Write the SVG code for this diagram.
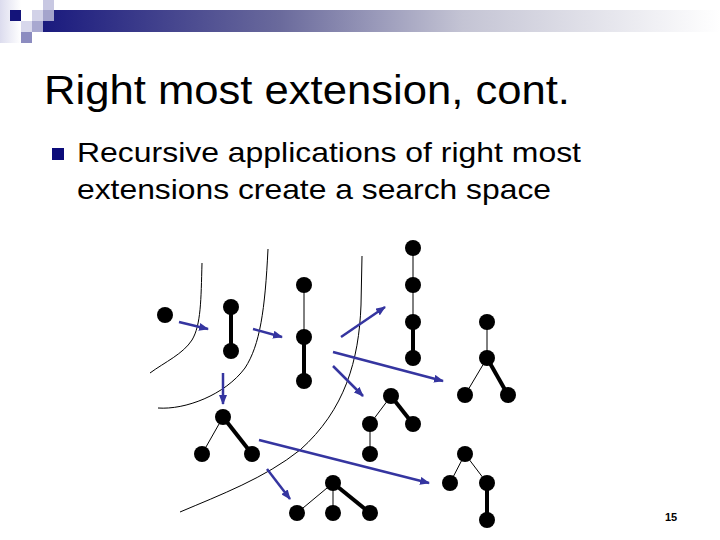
<svg xmlns="http://www.w3.org/2000/svg" width="720" height="540" viewBox="0 0 720 540">
  <defs>
    <linearGradient id="bar" x1="0" y1="0" x2="1" y2="0">
      <stop offset="0" stop-color="#1a1a7e"/>
      <stop offset="0.35" stop-color="#6a6a9c"/>
      <stop offset="0.62" stop-color="#c4c4d4"/>
      <stop offset="1" stop-color="#ffffff"/>
    </linearGradient>
    <linearGradient id="side" x1="0" y1="0" x2="1" y2="0">
      <stop offset="0" stop-color="#dcdcee"/>
      <stop offset="1" stop-color="#ffffff"/>
    </linearGradient>
    <marker id="ah" markerWidth="10" markerHeight="8" refX="9" refY="4" orient="auto" markerUnits="userSpaceOnUse">
      <path d="M0,0 L10,4 L0,8 Z" fill="#3535a0"/>
    </marker>
  </defs>
  <style>
    .title { font-family: "Liberation Sans", Arial, sans-serif; font-size: 41px; fill: #000; }
    .body { font-family: "Liberation Sans", Arial, sans-serif; font-size: 28px; fill: #000; }
    .pg { font-family: "Liberation Sans", Arial, sans-serif; font-size: 11px; font-weight: bold; fill: #000; }
    .dot { fill: #000; }
    .thin { stroke: #000; stroke-width: 1; fill: none; }
    .thick { stroke: #000; stroke-width: 4; fill: none; }
    .curve { stroke: #000; stroke-width: 1; fill: none; }
    .arrow { stroke: #3535a0; stroke-width: 2.5; fill: none; marker-end: url(#ah); }
  </style>
  <rect width="720" height="540" fill="#ffffff"/>

  <!-- header decoration -->
  <g id="header">
    <rect x="0" y="0" width="21" height="43" fill="url(#side)"/>
    <rect x="43" y="10" width="677" height="22" fill="url(#bar)"/>
    <rect x="10" y="10" width="11" height="11" fill="#14147a"/>
    <rect x="32" y="10" width="11" height="11" fill="#d2d2e8"/>
    <rect x="43" y="0" width="11" height="10" fill="#c8c8e2"/>
    <rect x="43" y="10" width="11" height="11" fill="#a4a4cc"/>
    <rect x="21" y="21" width="11" height="11" fill="#d8d8ec"/>
    <rect x="32" y="21" width="11" height="11" fill="#a8a8d0"/>
    <rect x="21" y="32" width="11" height="11" fill="#8c8cc0"/>
  </g>

  <text class="title" x="44" y="104" textLength="526" lengthAdjust="spacingAndGlyphs">Right most extension, cont.</text>
  <rect x="52" y="148" width="12" height="12" fill="#0c0c7a"/>
  <text class="body" x="77" y="162" textLength="504" lengthAdjust="spacingAndGlyphs">Recursive applications of right most</text>
  <text class="body" x="77" y="199" textLength="474" lengthAdjust="spacingAndGlyphs">extensions create a search space</text>

  <!-- separator curves -->
  <g id="curves">
    <path class="curve" d="M202,263 C201,300 201,325 192,340 C183,354 165,362 150,373"/>
    <path class="curve" d="M268,249 C265,310 260,345 245,368 C225,395 185,410 158,408"/>
    <path class="curve" d="M362,256 L361,305 C359,360 345,410 300,450 C265,478 220,495 180,512"/>
  </g>

  <!-- patterns -->
  <g id="p1">
    <circle class="dot" cx="165" cy="315" r="8"/>
  </g>
  <g id="p2">
    <line class="thick" x1="231" y1="307" x2="231" y2="351"/>
    <circle class="dot" cx="231" cy="307" r="8"/>
    <circle class="dot" cx="231" cy="351" r="8"/>
  </g>
  <g id="p3">
    <line class="thin" x1="304" y1="285" x2="304" y2="337"/>
    <line class="thick" x1="304" y1="337" x2="304" y2="381"/>
    <circle class="dot" cx="304" cy="285" r="8"/>
    <circle class="dot" cx="304" cy="337" r="8"/>
    <circle class="dot" cx="304" cy="381" r="8"/>
  </g>
  <g id="p4">
    <line class="thin" x1="413" y1="248" x2="413" y2="322"/>
    <line class="thick" x1="413" y1="322" x2="413" y2="358"/>
    <circle class="dot" cx="413" cy="248" r="8"/>
    <circle class="dot" cx="413" cy="285" r="8"/>
    <circle class="dot" cx="413" cy="322" r="8"/>
    <circle class="dot" cx="413" cy="358" r="8"/>
  </g>
  <g id="p5">
    <line class="thin" x1="487" y1="322" x2="487" y2="358"/>
    <line class="thin" x1="487" y1="358" x2="465" y2="395"/>
    <line class="thick" x1="487" y1="358" x2="508" y2="395"/>
    <circle class="dot" cx="487" cy="322" r="8"/>
    <circle class="dot" cx="487" cy="358" r="8"/>
    <circle class="dot" cx="465" cy="395" r="8"/>
    <circle class="dot" cx="508" cy="395" r="8"/>
  </g>
  <g id="p6">
    <line class="thin" x1="223" y1="417" x2="202" y2="454"/>
    <line class="thick" x1="223" y1="417" x2="252" y2="454"/>
    <circle class="dot" cx="223" cy="417" r="8"/>
    <circle class="dot" cx="202" cy="454" r="8"/>
    <circle class="dot" cx="252" cy="454" r="8"/>
  </g>
  <g id="p7">
    <line class="thin" x1="391" y1="396" x2="370" y2="424"/>
    <line class="thick" x1="391" y1="396" x2="413" y2="424"/>
    <line class="thin" x1="370" y1="424" x2="370" y2="454"/>
    <circle class="dot" cx="391" cy="396" r="8"/>
    <circle class="dot" cx="370" cy="424" r="8"/>
    <circle class="dot" cx="413" cy="424" r="8"/>
    <circle class="dot" cx="370" cy="454" r="8"/>
  </g>
  <g id="p8">
    <line class="thin" x1="333" y1="483" x2="297" y2="513"/>
    <line class="thin" x1="333" y1="483" x2="333" y2="513"/>
    <line class="thick" x1="333" y1="483" x2="370" y2="513"/>
    <circle class="dot" cx="333" cy="483" r="8"/>
    <circle class="dot" cx="297" cy="513" r="8"/>
    <circle class="dot" cx="333" cy="513" r="8"/>
    <circle class="dot" cx="370" cy="513" r="8"/>
  </g>
  <g id="p9">
    <line class="thin" x1="465" y1="454" x2="450" y2="483"/>
    <line class="thin" x1="465" y1="454" x2="487" y2="483"/>
    <line class="thick" x1="487" y1="483" x2="487" y2="520"/>
    <circle class="dot" cx="465" cy="454" r="8"/>
    <circle class="dot" cx="450" cy="483" r="8"/>
    <circle class="dot" cx="487" cy="483" r="8"/>
    <circle class="dot" cx="487" cy="520" r="8"/>
  </g>

  <!-- extension arrows -->
  <g id="connectors">
    <line class="arrow" x1="179" y1="322" x2="208" y2="329"/>
    <line class="arrow" x1="253" y1="329" x2="282" y2="337"/>
    <line class="arrow" x1="223" y1="373" x2="223" y2="404"/>
    <line class="arrow" x1="341" y1="337" x2="385" y2="307"/>
    <line class="arrow" x1="333" y1="352" x2="443" y2="381"/>
    <line class="arrow" x1="333" y1="366" x2="363" y2="396"/>
    <line class="arrow" x1="259" y1="440" x2="429" y2="483"/>
    <line class="arrow" x1="267" y1="469" x2="290" y2="499"/>
  </g>

  <text class="pg" x="671" y="521" text-anchor="middle">15</text>
</svg>
